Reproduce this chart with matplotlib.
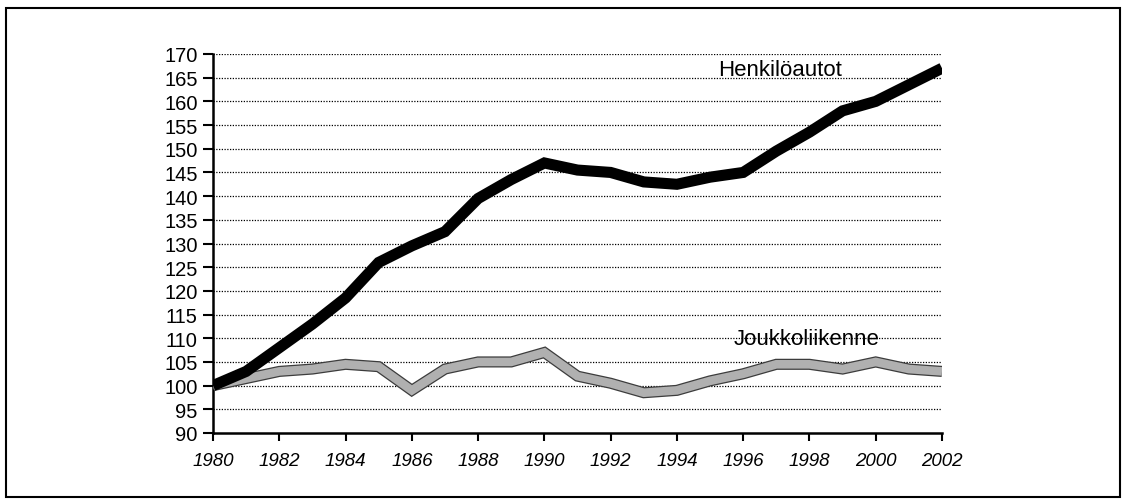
import matplotlib
matplotlib.use("Agg")
import matplotlib.pyplot as plt
from matplotlib.patches import Rectangle

years = list(range(1980, 2003))
henkiloautot = [100, 103, 108, 113, 118.5, 126, 129.5, 132.5, 139.5, 143.5, 147,
                145.5, 145, 143, 142.5, 144, 145, 149.5, 153.5, 158, 160, 163.5, 167]
joukkoliikenne = [100, 101.5, 103, 103.5, 104.5, 104, 99, 103.5, 105, 105, 107,
                  102, 100.5, 98.5, 99, 101, 102.5, 104.5, 104.5, 103.5, 105, 103.5, 103]
yticks = list(range(90, 171, 5))
xticks = list(range(1980, 2003, 2))

plt.rcParams['font.family'] = ['Liberation Sans', 'DejaVu Sans']

W, H = 1125, 502
fig = plt.figure(figsize=(W / 100, H / 100), dpi=100)
fig.patches.append(Rectangle((6 / W, 4 / H), 1114 / W, 489 / H, transform=fig.transFigure,
                             fill=False, edgecolor='black', linewidth=1.5))

ax = fig.add_axes([213 / W, 1 - 434 / H, (942 - 213) / W, (434 - 55) / H])
ax.set_xlim(1980, 2002)
ax.set_ylim(90, 170)

for v in yticks[1:]:
    ax.axhline(v, color='black', linestyle=(0, (1, 1.2)), linewidth=0.9, zorder=1)

ax.plot(years, joukkoliikenne, color='#3c3c3c', linewidth=8.0, solid_joinstyle='miter',
        solid_capstyle='butt', zorder=3)
ax.plot(years, joukkoliikenne, color='#b0b0b0', linewidth=6.2, solid_joinstyle='miter',
        solid_capstyle='butt', zorder=4)
ax.plot(years, henkiloautot, color='black', linewidth=8.0, solid_joinstyle='miter',
        solid_capstyle='butt', zorder=5)

ax.set_yticks(yticks)
ax.set_yticklabels([str(v) for v in yticks], fontsize=14.5)
ax.set_xticks(xticks)
ax.set_xticklabels([str(v) for v in xticks], fontsize=13.5, style='italic')
ax.tick_params(axis='y', direction='out', length=7, width=1.5, pad=4)
ax.tick_params(axis='x', direction='out', length=6, width=1.5, pad=8)

for s in ['top', 'right']:
    ax.spines[s].set_visible(False)
for s in ['left', 'bottom']:
    ax.spines[s].set_linewidth(1.8)

ax.text(1997.1, 166.8, 'Henkilöautot', fontsize=16, ha='center', va='center', zorder=6)
ax.text(1997.9, 109.9, 'Joukkoliikenne', fontsize=16, ha='center', va='center', zorder=6)

fig.savefig('out.png', dpi=100)
